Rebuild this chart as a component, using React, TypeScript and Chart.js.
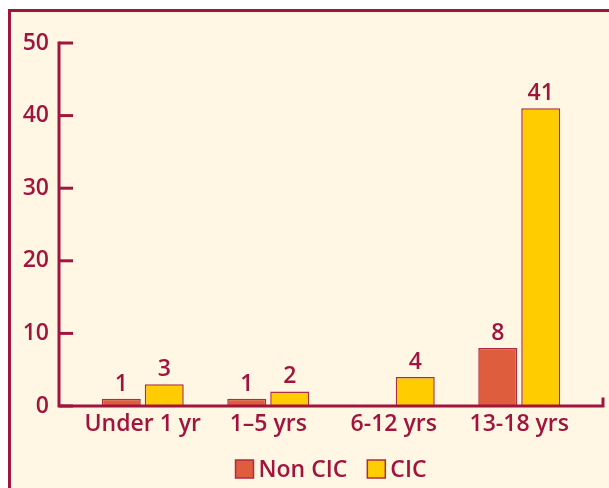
import React, { useEffect, useRef } from "react";
import { Chart, registerables } from "chart.js";

Chart.register(...registerables);

const categories = ["Under 1 yr", "1–5 yrs", "6-12 yrs", "13-18 yrs"];
const nonCicValues = [1, 1, 0, 8];
const cicValues = [3, 2, 4, 41];
const yMin = 0;
const yMax = 50;
const yStep = 10;

const CRIMSON = "#A0153E";
const BG = "#FFF7E4";
const NON_CIC_FILL = "#DD5D3C";
const CIC_FILL = "#FFCC00";
const BAR_BORDER = "#AC2D44";
const FONT = "'Open Sans', sans-serif";
const FONT_SIZE = 23;
const FONT_WEIGHT = 600;

export default function App() {
  const ref = useRef<HTMLCanvasElement>(null);

  useEffect(() => {
    if (!ref.current) return;

    const axisPlugin = {
      id: "customAxes",
      afterDatasetsDraw(chart: any) {
        const { ctx, chartArea, scales } = chart;
        const ys = scales.y;
        const gap = 21;
        const ax = chartArea.left - gap;
        const y0 = ys.getPixelForValue(yMin);
        const yTop = ys.getPixelForValue(yMax);
        ctx.save();
        ctx.strokeStyle = CRIMSON;
        ctx.lineWidth = 3;
        ctx.lineCap = "square";
        ctx.beginPath();
        ctx.moveTo(ax, yTop);
        ctx.lineTo(ax, y0);
        ctx.lineTo(chartArea.right + gap, y0);
        ctx.lineTo(chartArea.right + gap, y0 - 7);
        ctx.stroke();
        ctx.lineCap = "butt";
        for (let v = yMin; v <= yMax; v += yStep) {
          const py = ys.getPixelForValue(v);
          ctx.beginPath();
          ctx.moveTo(ax, py);
          ctx.lineTo(ax + 14, py);
          ctx.stroke();
        }
        ctx.restore();
      },
    };

    const labelPlugin = {
      id: "valueLabels",
      afterDatasetsDraw(chart: any) {
        const { ctx } = chart;
        ctx.save();
        ctx.fillStyle = CRIMSON;
        ctx.font = `${FONT_WEIGHT} ${FONT_SIZE}px ${FONT}`;
        ctx.textAlign = "center";
        ctx.textBaseline = "alphabetic";
        chart.data.datasets.forEach((ds: any, i: number) => {
          const meta = chart.getDatasetMeta(i);
          meta.data.forEach((bar: any, j: number) => {
            const v = ds.data[j];
            if (v > 0) ctx.fillText(String(v), bar.x, bar.y - 8);
          });
        });
        ctx.restore();
      },
    };

    const legendPlugin = {
      id: "customLegend",
      afterDraw(chart: any) {
        const { ctx, chartArea } = chart;
        ctx.save();
        ctx.font = `${FONT_WEIGHT} ${FONT_SIZE}px ${FONT}`;
        const box = 18;
        const textGap = 5;
        const itemGap = 20;
        const items = chart.data.datasets.map((ds: any) => ({
          label: ds.label,
          fill: ds.backgroundColor,
          stroke: ds.borderColor,
          w: ctx.measureText(ds.label).width,
        }));
        const total =
          items.reduce((s: number, it: any) => s + box + textGap + it.w, 0) +
          itemGap * (items.length - 1);
        let x = (chartArea.left + chartArea.right) / 2 - total / 2;
        const cy = chart.height - 19;
        ctx.textBaseline = "middle";
        ctx.textAlign = "left";
        items.forEach((it: any) => {
          ctx.fillStyle = it.fill;
          ctx.fillRect(x, cy - box / 2, box, box);
          ctx.strokeStyle = it.stroke;
          ctx.lineWidth = 1.5;
          ctx.strokeRect(x, cy - box / 2, box, box);
          ctx.fillStyle = CRIMSON;
          ctx.fillText(it.label, x + box + textGap, cy + 1);
          x += box + textGap + it.w + itemGap;
        });
        ctx.restore();
      },
    };

    const chart = new Chart(ref.current, {
      type: "bar",
      data: {
        labels: categories,
        datasets: [
          {
            label: "Non CIC",
            data: nonCicValues,
            backgroundColor: NON_CIC_FILL,
            borderColor: BAR_BORDER,
            borderWidth: 1.5,
            categoryPercentage: 0.685,
            barPercentage: 0.907,
          },
          {
            label: "CIC",
            data: cicValues,
            backgroundColor: CIC_FILL,
            borderColor: BAR_BORDER,
            borderWidth: 1.5,
            categoryPercentage: 0.685,
            barPercentage: 0.907,
          },
        ],
      },
      options: {
        responsive: false,
        animation: false,
        layout: { padding: { left: 12, right: 27, top: 31, bottom: 42 } },
        scales: {
          x: {
            grid: { display: false, drawTicks: false },
            border: { display: false },
            ticks: {
              color: CRIMSON,
              padding: 5,
              autoSkip: false,
              maxRotation: 0,
              minRotation: 0,
              font: { family: FONT, size: FONT_SIZE, weight: FONT_WEIGHT as any },
            },
            afterFit(scale: any) {
              scale.height = 40;
              scale.paddingLeft = 0;
              scale.paddingRight = 0;
            },
          },
          y: {
            min: yMin,
            max: yMax,
            grid: { display: false, drawTicks: false },
            border: { display: false },
            ticks: {
              stepSize: yStep,
              color: CRIMSON,
              padding: 31,
              font: { family: FONT, size: FONT_SIZE, weight: FONT_WEIGHT as any },
            },
            afterFit(scale: any) {
              scale.width = 57;
              scale.paddingTop = 0;
              scale.paddingBottom = 0;
            },
          },
        },
        plugins: {
          tooltip: { enabled: false },
          legend: { display: false },
        },
      },
      plugins: [axisPlugin, labelPlugin, legendPlugin],
    });

    return () => chart.destroy();
  }, []);

  return (
    <div
      style={{
        position: "fixed",
        left: 8,
        top: 9,
        width: 601,
        height: 479,
        boxSizing: "border-box",
        borderLeft: `3px solid ${CRIMSON}`,
        borderTop: `3px solid ${CRIMSON}`,
        background: BG,
      }}
    >
      <canvas ref={ref} width={598} height={476} style={{ display: "block" }} />
    </div>
  );
}
